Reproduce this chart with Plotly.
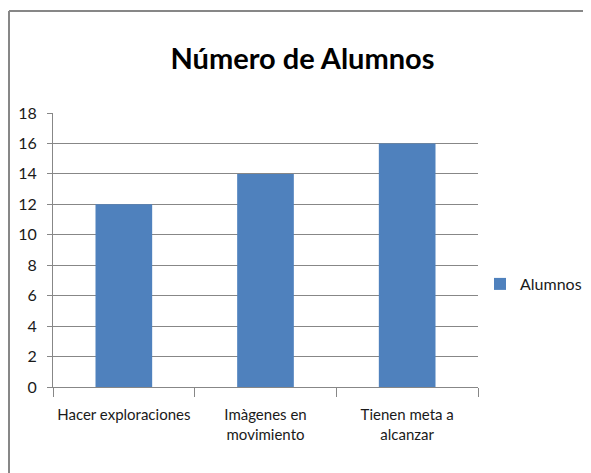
import plotly.graph_objects as go

categories = ["Hacer exploraciones", "Imàgenes en<br>movimiento", "Tienen meta a<br>alcanzar"]
values = [12, 14, 16]
series_name = "Alumnos"
y_ticks = [0, 2, 4, 6, 8, 10, 12, 14, 16, 18]

# The page body has an 8px margin, so the figure is shifted by 8px.
OFF = 8
W, H = 591 - OFF, 473 - OFF
L, R, T, B = 45, 113, 105, 86
pw, ph = W - L - R, H - T - B

def px_x(x):
    return (x - L) / pw

def px_y(y):
    return (H - B - y) / ph

FONT = "Lato"
GRAY = "#878787"

fig = go.Figure()
fig.add_trace(go.Bar(
    x=categories, y=values, name=series_name,
    marker=dict(color="#4F81BD", line=dict(width=0)),
    showlegend=True,
))

fig.update_layout(
    width=W, height=H,
    margin=dict(l=L, r=R, t=T, b=B, autoexpand=False),
    paper_bgcolor="white", plot_bgcolor="white",
    bargap=0.6,
    font=dict(family=FONT, size=15, color="#1a1a1a"),
    title=dict(
        text="Número de Alumnos",
        font=dict(family=FONT, size=29, color="black", weight="bold"),
        x=294.5 / W, xref="container", xanchor="center",
        y=1 - 51 / H, yref="container", yanchor="middle",
    ),
    showlegend=True,
    legend=dict(
        x=px_x(472), y=px_y(276), xanchor="left", yanchor="middle",
        font=dict(family=FONT, size=16, color="#1a1a1a"),
        bgcolor="rgba(0,0,0,0)", itemwidth=30,
    ),
    xaxis=dict(
        showline=True, linecolor=GRAY, linewidth=1,
        ticks="outside", tickson="boundaries", ticklen=9, tickcolor=GRAY,
        showgrid=False, tickfont=dict(size=15), tickangle=0,
        ticklabelstandoff=14,
    ),
    yaxis=dict(
        range=[0, 18], tickvals=y_ticks,
        showline=True, linecolor=GRAY, linewidth=1,
        ticks="outside", ticklen=5, tickcolor=GRAY,
        showgrid=True, gridcolor=GRAY, gridwidth=1,
        zeroline=False, tickfont=dict(size=16), ticklabelstandoff=7,
    ),
    shapes=[
        dict(type="line", xref="paper", yref="paper",
             x0=px_x(1), x1=px_x(W + 5), y0=px_y(3), y1=px_y(3),
             line=dict(color=GRAY, width=2)),
        dict(type="line", xref="paper", yref="paper",
             x0=px_x(1), x1=px_x(1), y0=px_y(3), y1=px_y(H + 5),
             line=dict(color=GRAY, width=2)),
    ],
)

fig.write_html("out.html")
